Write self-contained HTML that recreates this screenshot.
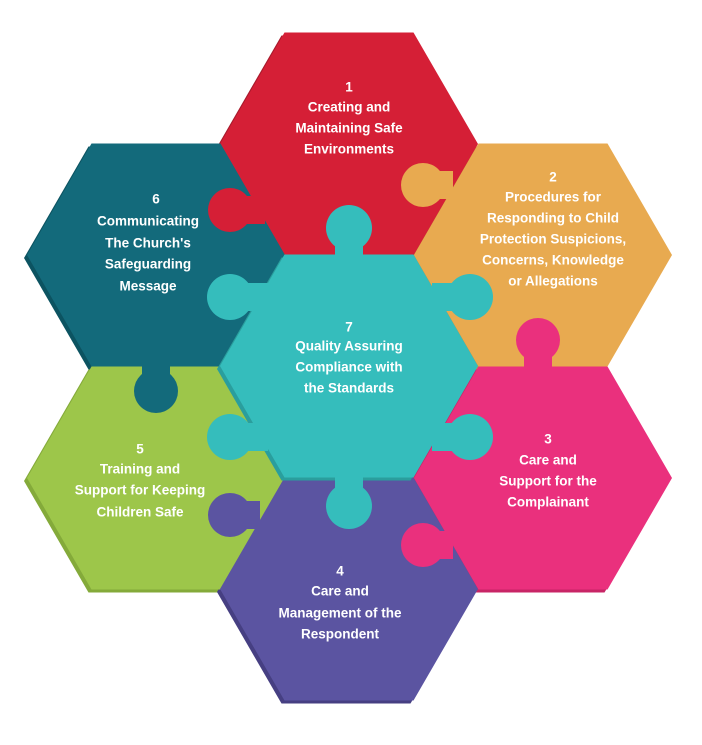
<!DOCTYPE html>
<html><head><style>
body{margin:0;background:#fff;width:702px;height:740px;overflow:hidden}
text{font-family:"Liberation Sans",sans-serif;font-weight:bold;font-size:13.5px;fill:#fff;text-anchor:middle;dominant-baseline:middle}
</style></head><body>
<svg width="702" height="740" viewBox="0 0 702 740">
<defs>
<polygon id="hx" points="-129,0 -64.5,-111.5 64.5,-111.5 129,0 64.5,111.5 -64.5,111.5"/>
</defs>
<g transform="translate(-3,3)">
<use href="#hx" x="349" y="144" fill="#a81a2c"/>
<use href="#hx" x="543" y="255" fill="#c98d3c"/>
<use href="#hx" x="156" y="255" fill="#0c5361"/>
<use href="#hx" x="543" y="478" fill="#c82566"/>
<use href="#hx" x="156" y="478" fill="#84aa3a"/>
<use href="#hx" x="349" y="589" fill="#463f82"/>
</g>
<use href="#hx" x="349" y="144" fill="#d51f36"/>
<use href="#hx" x="543" y="255" fill="#e8aa50"/>
<use href="#hx" x="156" y="255" fill="#136a7b"/>
<use href="#hx" x="543" y="478" fill="#ea307d"/>
<use href="#hx" x="156" y="478" fill="#9dc64a"/>
<use href="#hx" x="349" y="589" fill="#5b54a1"/>
<g fill="#d51f36"><circle cx="230" cy="210" r="22"/><rect x="235" y="196" width="30" height="28"/></g>
<g fill="#e8aa50"><circle cx="423" cy="185" r="22"/><rect x="428" y="171" width="25" height="28"/></g>
<g fill="#136a7b"><circle cx="156" cy="391" r="22"/><rect x="142" y="360" width="28" height="25"/></g>
<g fill="#ea307d"><circle cx="538" cy="340" r="22"/><rect x="524" y="345" width="28" height="25"/><circle cx="423" cy="545" r="22"/><rect x="428" y="531" width="25" height="28"/></g>
<g fill="#5b54a1"><circle cx="230" cy="515" r="22"/><rect x="235" y="501" width="25" height="28"/></g>
<use href="#hx" x="346" y="369" fill="#2a9e9d"/>
<use href="#hx" x="349" y="366" fill="#35bdbc"/>
<g fill="#35bdbc">
<circle cx="349" cy="228" r="23"/><rect x="335" y="240" width="28" height="20"/>
<circle cx="230" cy="297" r="23"/><rect x="240" y="283" width="28" height="28"/>
<circle cx="470" cy="297" r="23"/><rect x="432" y="283" width="28" height="28"/>
<circle cx="230" cy="437" r="23"/><rect x="240" y="423" width="28" height="28"/>
<circle cx="470" cy="437" r="23"/><rect x="432" y="423" width="28" height="28"/>
<circle cx="349" cy="506" r="23"/><rect x="335" y="470" width="28" height="22"/>
</g>
<text x="349" y="88">1</text><text x="349" y="108">Creating and</text><text x="349" y="129">Maintaining Safe</text><text x="349" y="150">Environments</text>
<text x="553" y="178">2</text><text x="553" y="198">Procedures for</text><text x="553" y="219">Responding to Child</text><text x="553" y="240">Protection Suspicions,</text><text x="553" y="261">Concerns, Knowledge</text><text x="553" y="282">or Allegations</text>
<text x="156" y="200">6</text><text x="148" y="222">Communicating</text><text x="148" y="244">The Church's</text><text x="148" y="265">Safeguarding</text><text x="148" y="287">Message</text>
<text x="349" y="328">7</text><text x="349" y="347">Quality Assuring</text><text x="349" y="368">Compliance with</text><text x="349" y="389">the Standards</text>
<text x="548" y="440">3</text><text x="548" y="461">Care and</text><text x="548" y="482">Support for the</text><text x="548" y="503">Complainant</text>
<text x="140" y="450">5</text><text x="140" y="470">Training and</text><text x="140" y="491">Support for Keeping</text><text x="140" y="513">Children Safe</text>
<text x="340" y="572">4</text><text x="340" y="592">Care and</text><text x="340" y="614">Management of the</text><text x="340" y="635">Respondent</text>
</svg>
</body></html>
